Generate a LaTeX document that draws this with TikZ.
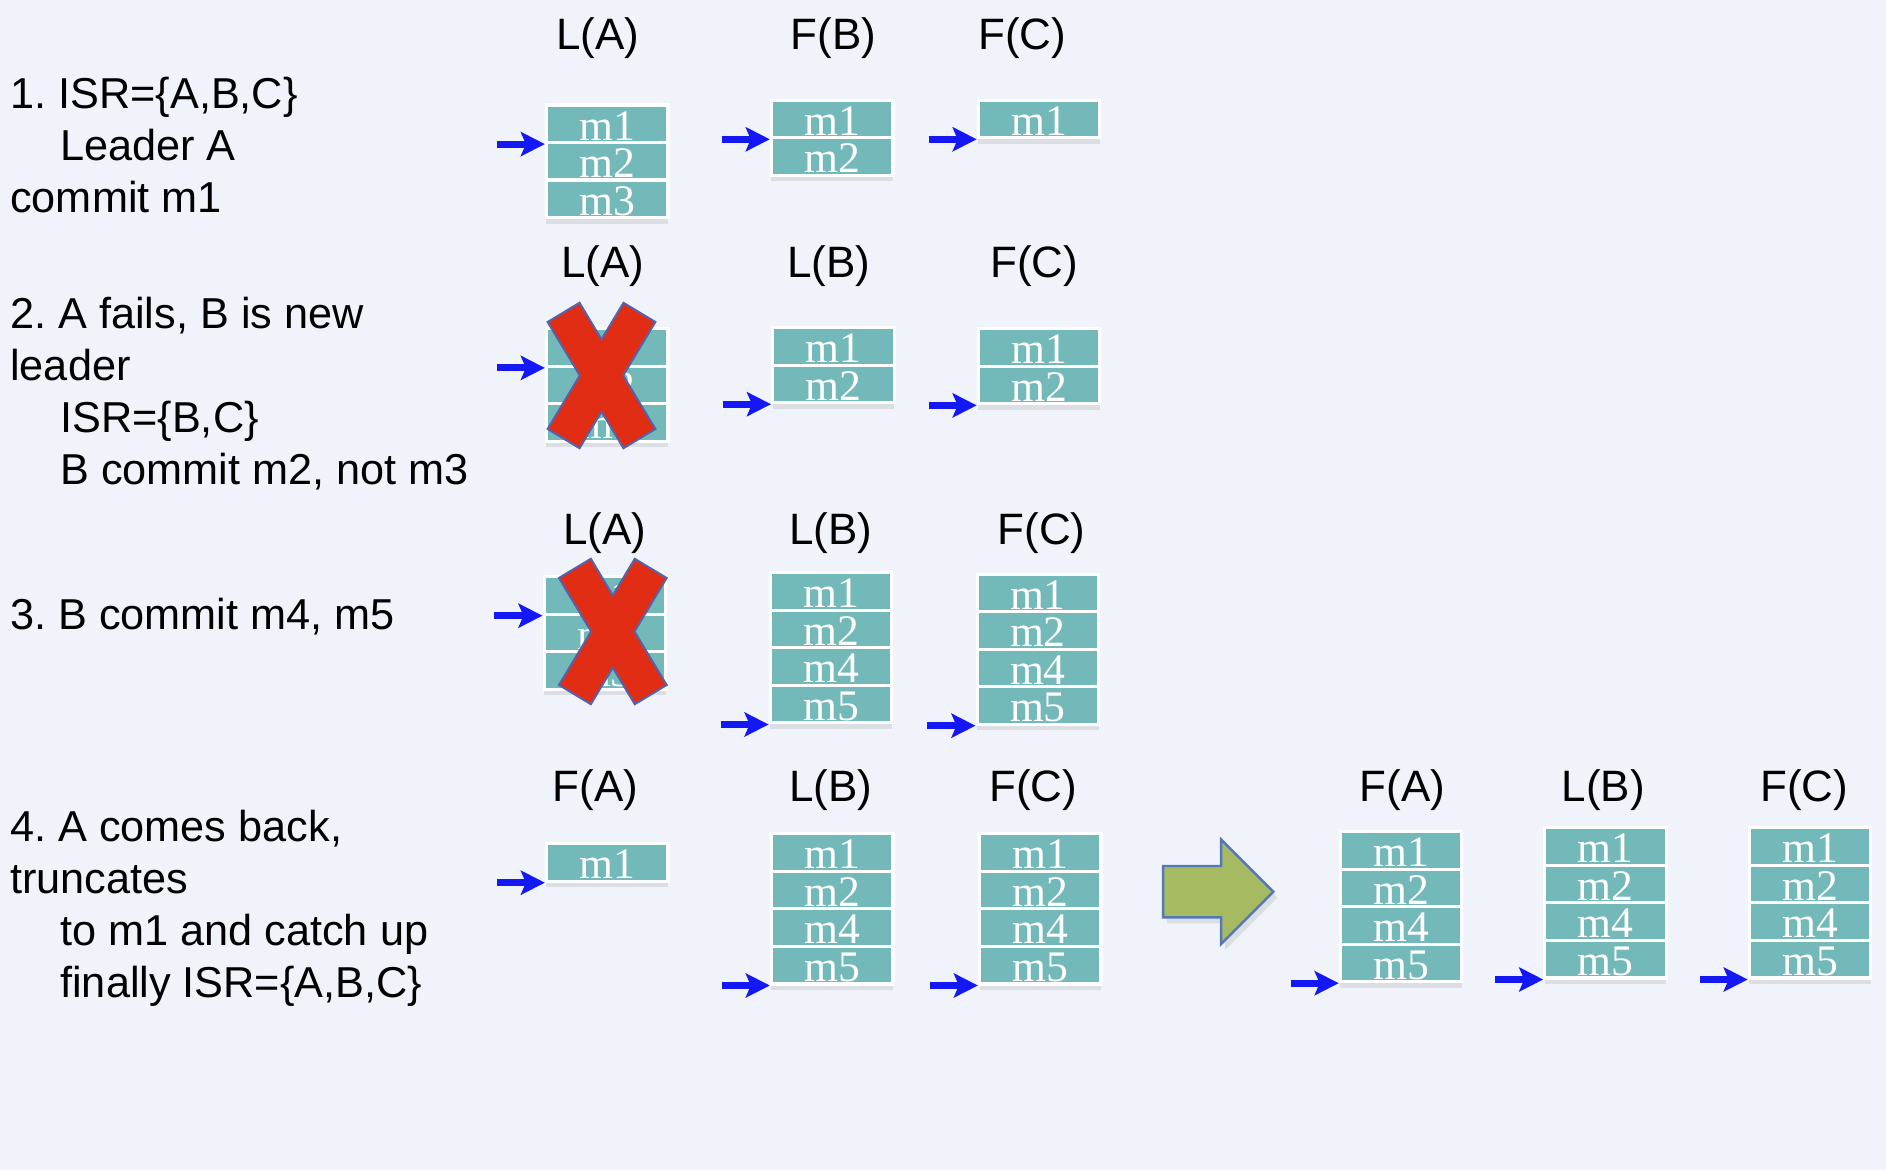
\documentclass[tikz,border=0pt]{standalone}
\usepackage{fontspec}
\newfontfamily\labelfont{Liberation Sans}
\newfontfamily\cellfont{Liberation Serif}
\usetikzlibrary{arrows.meta,positioning,shadows}

\definecolor{bgpage}{RGB}{240,243,250}
\definecolor{cellteal}{RGB}{116,185,185}
\definecolor{hwblue}{RGB}{20,24,245}
\definecolor{crossred}{RGB}{225,45,20}
\definecolor{crossedge}{RGB}{80,100,175}
\definecolor{moveolive}{RGB}{166,186,98}
\definecolor{moveedge}{RGB}{85,120,185}

% one log: name, left, top, messages
\newcommand{\logstack}[4]{%
  \foreach \msg [count=\k] in {#4}
    \node[log cell] (#1-\k) at (#2,{#3+37.5*(\k-1)}) {\msg};
}
% red cross over a dead broker
\newcommand{\deadcross}[2]{%
  \begin{scope}[shift={(#1,#2)}]
    \foreach \a in {31,-31}
      \draw[crossedge,line width=1.2pt,rotate=\a] (-17.5,-72.5) rectangle (17.5,72.5);
    \foreach \a in {31,-31}
      \fill[crossred,rotate=\a] (-17.5,-72.5) rectangle (17.5,72.5);
  \end{scope}
}

\begin{document}
\begin{tikzpicture}[x=0.01cm,y=-0.01cm,
    log cell/.style={rectangle,draw=white,line width=0.9pt,fill=cellteal,
      anchor=north west,inner sep=0pt,minimum width=1.215cm,minimum height=0.375cm,
      text height=0.35cm,text depth=0.025cm,text=white,
      font=\cellfont\fontsize{12.4}{14}\selectfont,
      drop shadow={shadow xshift=0pt,shadow yshift=-0.6mm,opacity=0.18}},
    hw arrow/.style={hwblue,line width=0.07cm,-{Stealth[length=0.24cm,width=0.24cm,inset=0.05cm]}},
    head label/.style={inner sep=0pt,font=\labelfont\fontsize{12.5}{15}\selectfont},
    step text/.style={anchor=north west,inner sep=0pt,align=left,
      font=\labelfont\fontsize{12.3}{14.8}\selectfont\frenchspacing}]

  \fill[bgpage] (0,0) rectangle (1886,1170);
  \useasboundingbox (0,0) rectangle (1886,1170);

  % steps
  \node[step text] (s1) at (9.6,76.6) {1. ISR=\{A,B,C\}\\\hspace*{0.5cm}Leader A\\commit m1};
  \node[step text] (s2) at (9.6,296.7) {2. A fails, B is new\\leader\\\hspace*{0.5cm}ISR=\{B,C\}\\\hspace*{0.5cm}B commit m2, not m3};
  \node[step text] (s3) at (9.6,597.9) {3. B commit m4, m5};
  \node[step text] (s4) at (9.6,809) {4. A comes back,\\truncates\\\hspace*{0.5cm}to m1 and catch up\\\hspace*{0.5cm}finally ISR=\{A,B,C\}};

  % broker labels
  \node[head label] (hA1) at (597.8,38.5) {L(A)};
  \node[head label] (hB1) at (833.5,38.5) {F(B)};
  \node[head label] (hC1) at (1022.4,38.5) {F(C)};
  \node[head label] (hA2) at (602.6,265.8) {L(A)};
  \node[head label] (hB2) at (828.7,265.8) {L(B)};
  \node[head label] (hC2) at (1034.4,265.8) {F(C)};
  \node[head label] (hA3) at (605,532.8) {L(A)};
  \node[head label] (hB3) at (831,532.8) {L(B)};
  \node[head label] (hC3) at (1041.6,532.8) {F(C)};
  \node[head label] (hA4) at (595.4,790.2) {F(A)};
  \node[head label] (hB4) at (831,790.2) {L(B)};
  \node[head label] (hC4) at (1033.2,790.2) {F(C)};
  \node[head label] (hA5) at (1402.5,790.2) {F(A)};
  \node[head label] (hB5) at (1603.3,790.2) {L(B)};
  \node[head label] (hC5) at (1804.2,790.2) {F(C)};

  % logs
  \logstack{LA1}{544.9}{103.4}{m1,m2,m3}
  \logstack{FB1}{769.8}{98.6}{m1,m2}
  \logstack{FC1}{976.7}{98.6}{m1}
  \logstack{LA2}{544.9}{327.2}{m1,m2,m3}
  \logstack{LB2}{771}{326}{m1,m2}
  \logstack{FC2}{976.7}{327.2}{m1,m2}
  \logstack{LA3}{542.5}{575}{m1,m2,m3}
  \logstack{LB3}{768.6}{571.3}{m1,m2,m4,m5}
  \logstack{FC3}{975.5}{572.5}{m1,m2,m4,m5}
  \logstack{FA4}{544.9}{842}{m1}
  \logstack{LB4}{769.8}{832.3}{m1,m2,m4,m5}
  \logstack{FC4}{977.9}{832.3}{m1,m2,m4,m5}
  \logstack{FA5}{1338.7}{830}{m1,m2,m4,m5}
  \logstack{LB5}{1543.2}{826.3}{m1,m2,m4,m5}
  \logstack{FC5}{1747.7}{826.3}{m1,m2,m4,m5}

  % high watermarks
  \foreach \c in {LA1-1,FB1-1,FC1-1,LA2-1,LB2-2,FC2-2,LA3-1,LB3-4,FC3-4,
                  FA4-1,LB4-4,FC4-4,FA5-4,LB5-4,FC5-4} {
    \coordinate[left=0.48cm of \c.south west] (\c-w);
    \draw[hw arrow] (\c-w) -- (\c.south west);
  }

  \deadcross{601.5}{375.5}
  \deadcross{612.8}{631.5}

  % catch up
  \filldraw[fill=moveolive,draw=moveedge,line width=0.7pt,
      drop shadow={shadow xshift=0.4mm,shadow yshift=-0.6mm,opacity=0.18}]
    (1163,866) -- (1221,866) -- (1221,839.3) -- (1273.3,891.7) --
    (1221,944) -- (1221,917.3) -- (1163,917.3) -- cycle;
\end{tikzpicture}
\end{document}
